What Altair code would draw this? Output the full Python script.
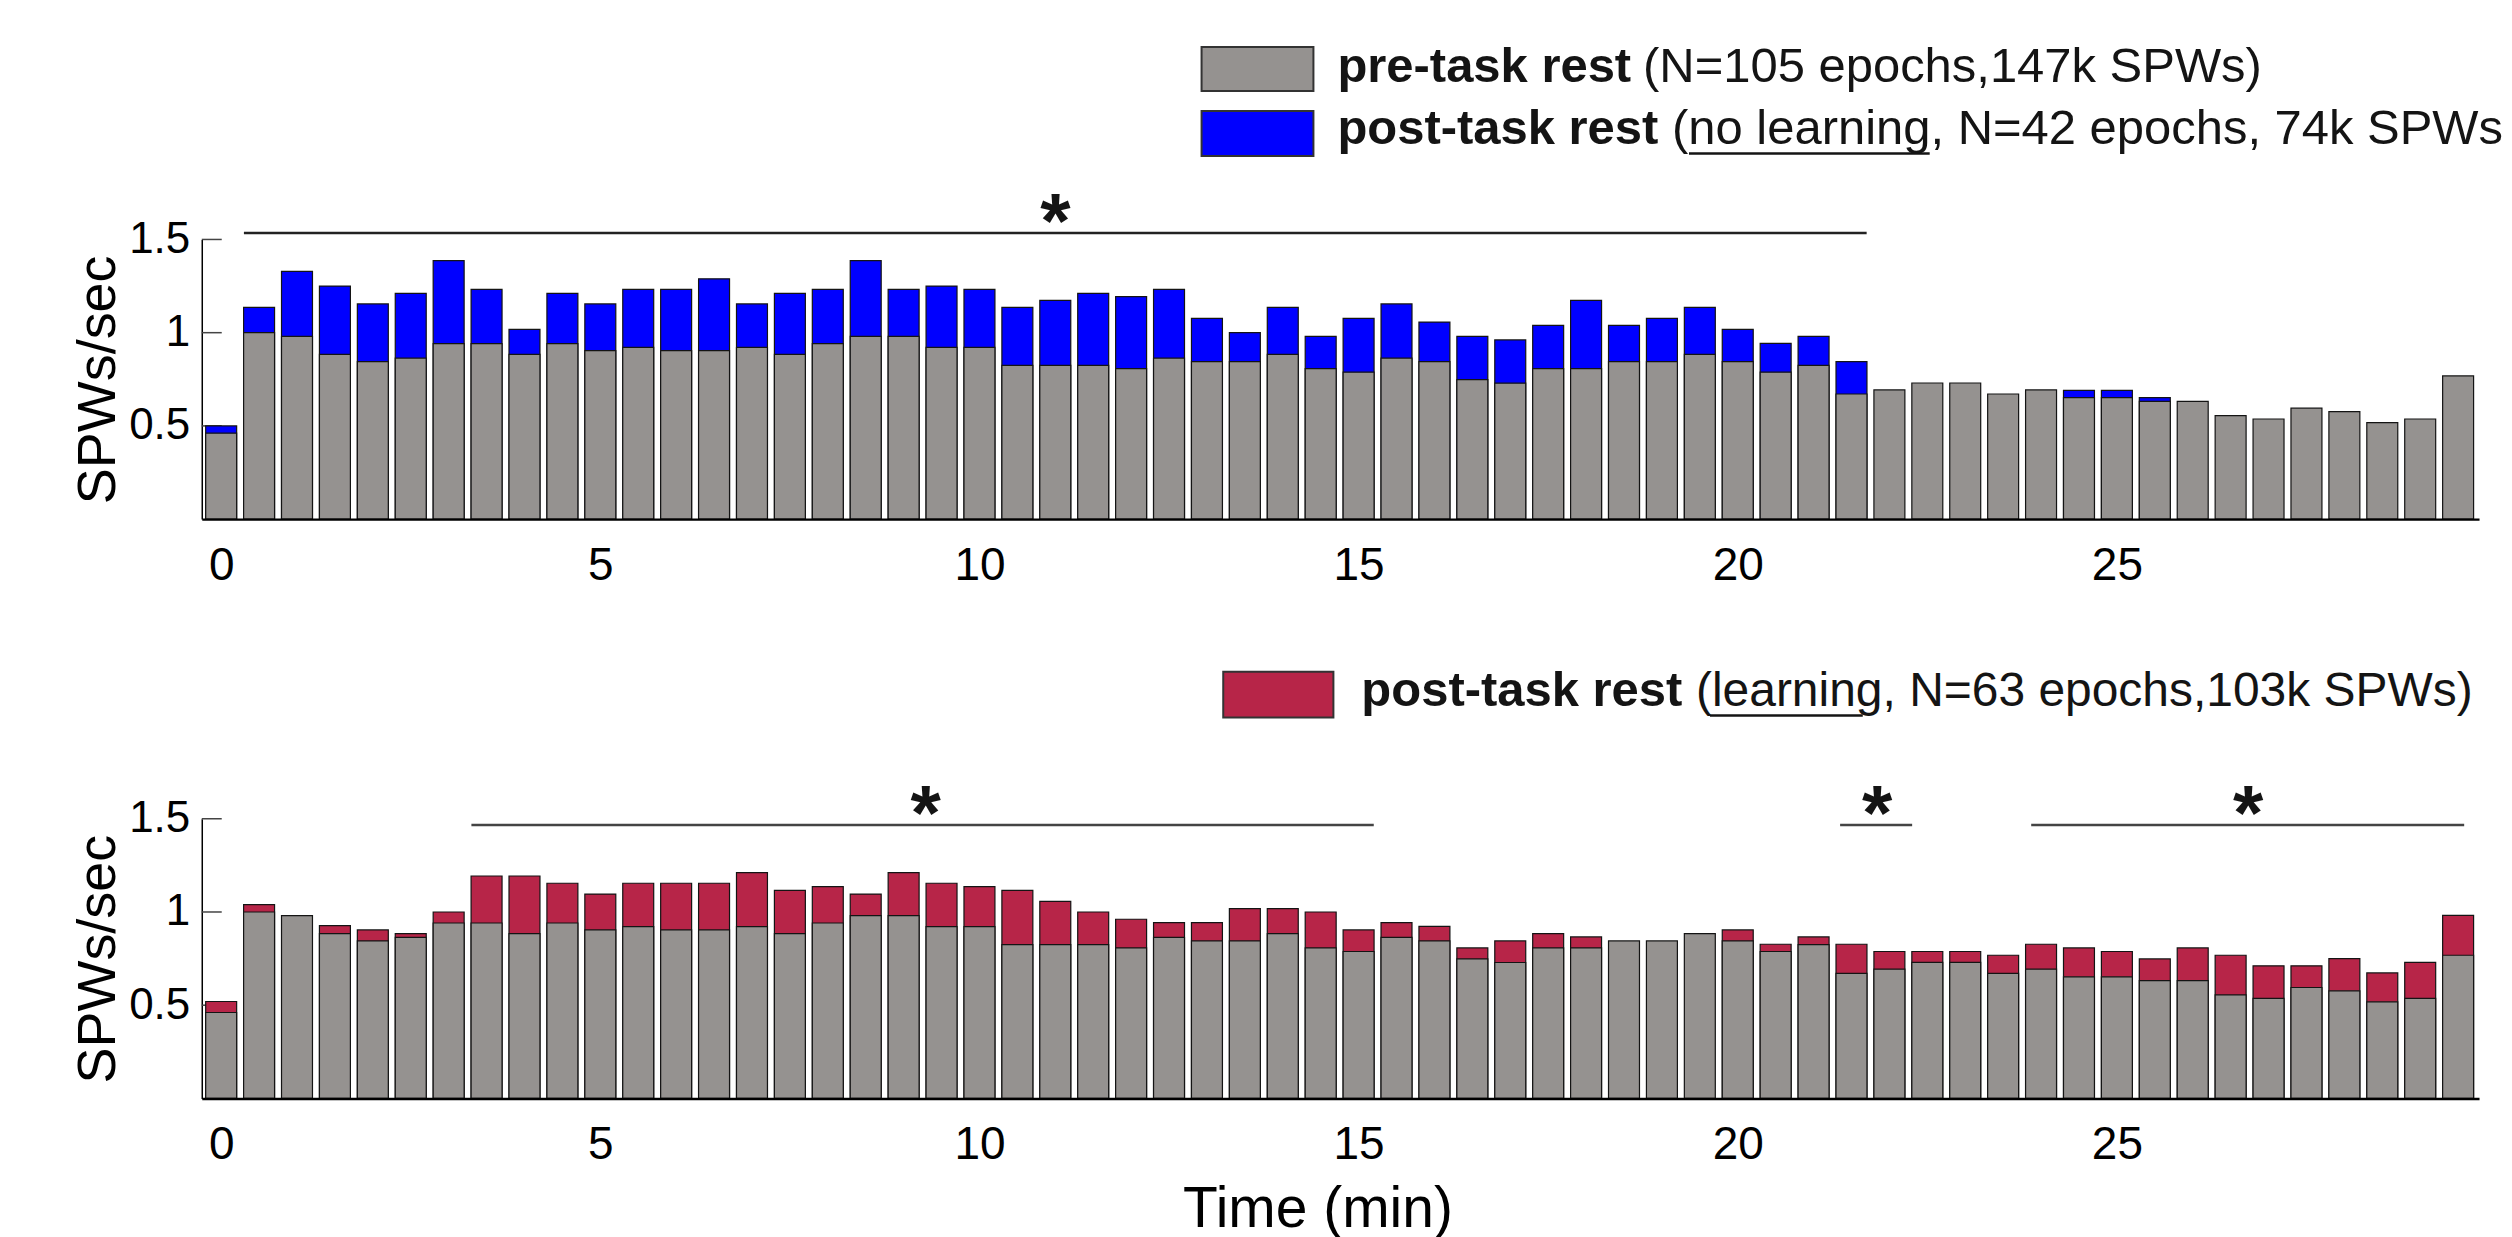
import altair as alt
import pandas as pd

FONT = "Liberation Sans"

# ---- data ----
time_min = [0.0, 0.5, 1.0, 1.5, 2.0, 2.5, 3.0, 3.5, 4.0, 4.5,
            5.0, 5.5, 6.0, 6.5, 7.0, 7.5, 8.0, 8.5, 9.0, 9.5,
            10.0, 10.5, 11.0, 11.5, 12.0, 12.5, 13.0, 13.5, 14.0, 14.5,
            15.0, 15.5, 16.0, 16.5, 17.0, 17.5, 18.0, 18.5, 19.0, 19.5,
            20.0, 20.5, 21.0, 21.5, 22.0, 22.5, 23.0, 23.5, 24.0, 24.5,
            25.0, 25.5, 26.0, 26.5, 27.0, 27.5, 28.0, 28.5, 29.0, 29.5]

pre_task = [0.461, 1.000, 0.980, 0.884, 0.845, 0.864, 0.941, 0.941, 0.884, 0.941,
            0.904, 0.921, 0.904, 0.904, 0.921, 0.884, 0.941, 0.980, 0.980, 0.921,
            0.921, 0.825, 0.825, 0.825, 0.807, 0.864, 0.845, 0.845, 0.884, 0.807,
            0.788, 0.864, 0.845, 0.748, 0.729, 0.807, 0.807, 0.845, 0.845, 0.884,
            0.845, 0.788, 0.825, 0.671, 0.693, 0.730, 0.730, 0.671, 0.693, 0.652,
            0.652, 0.632, 0.632, 0.555, 0.537, 0.595, 0.577, 0.518, 0.537, 0.768]

post_no_learning = [0.500, 1.136, 1.329, 1.250, 1.154, 1.211, 1.386, 1.232, 1.018, 1.211,
                    1.154, 1.232, 1.232, 1.289, 1.154, 1.211, 1.232, 1.386, 1.232, 1.250,
                    1.232, 1.136, 1.173, 1.211, 1.193, 1.232, 1.077, 1.000, 1.136, 0.980,
                    1.077, 1.154, 1.057, 0.980, 0.961, 1.039, 1.173, 1.039, 1.077, 1.136,
                    1.018, 0.943, 0.980, 0.845, None, None, None, None, None, 0.691,
                    0.691, 0.652, None, None, None, None, None, None, None, None]

post_learning = [0.520, 1.039, None, 0.927, 0.904, 0.884, 1.000, 1.193, 1.193, 1.154,
                 1.096, 1.154, 1.154, 1.154, 1.211, 1.116, 1.136, 1.096, 1.211, 1.154,
                 1.136, 1.116, 1.057, 1.000, 0.961, 0.943, 0.943, 1.018, 1.018, 1.000,
                 0.904, 0.943, 0.923, 0.807, 0.845, 0.884, 0.866, None, None, None,
                 0.904, 0.827, 0.866, 0.827, 0.788, 0.788, 0.788, 0.768, 0.827, 0.807,
                 0.788, 0.748, 0.807, 0.768, 0.711, 0.711, 0.750, 0.673, 0.730, 0.982]

y_tick_values = [0.5, 1.0, 1.5]
x_tick_values = [0, 5, 10, 15, 20, 25]

# significance bars (start, end in minutes, height in SPWs/sec, asterisk position)
sig_top_start = [0.3]
sig_top_end = [21.7]
sig_top_level = [1.535]
sig_top_star = [11.0]

sig_bot_start = [3.3, 21.35, 23.87]
sig_bot_end = [15.2, 22.3, 29.58]
sig_bot_level = [1.466, 1.466, 1.466]
sig_bot_star = [9.29, 21.84, 26.73]

GRAY = "#959290"
BLUE = "#0000FF"
RED = "#B72548"

df = pd.DataFrame({"t": time_min, "pre": pre_task,
                   "post_nl": post_no_learning, "post_l": post_learning})
yt_df = pd.DataFrame({"v": y_tick_values})
sig_top = pd.DataFrame({"start": sig_top_start, "end": sig_top_end,
                        "level": sig_top_level, "star": sig_top_star})
sig_bot = pd.DataFrame({"start": sig_bot_start, "end": sig_bot_end,
                        "level": sig_bot_level, "star": sig_bot_star})
one = pd.DataFrame({"a": [0]})

xs = alt.Scale(domain=[-0.19, 29.71], nice=False, zero=False)
ys = alt.Scale(domain=[0, 1.5], nice=False)


def make_xaxis():
    return alt.Axis(values=x_tick_values, format="d", ticks=False, tickSize=0, grid=False,
                    labelFontSize=46, labelPadding=24, labelFlush=False, labelColor="black",
                    domainColor="black", domainWidth=2.5, zindex=1,
                    titleFontSize=57, titleFontWeight="normal", titleColor="black",
                    titlePadding=14, titleX=1117)


def make_yaxis():
    return alt.Axis(values=y_tick_values, format="~g", ticks=False, tickSize=0, grid=False,
                    labelFontSize=44, labelPadding=12, labelColor="black",
                    domainColor="black", domainWidth=1.5,
                    titleFontSize=54, titleFontWeight="normal", titleColor="black",
                    titlePadding=3)


def txt(x, y, s, bold=False, size=49):
    return alt.Chart(one).mark_text(
        text=s, font=FONT, fontSize=size, fontWeight="bold" if bold else "normal",
        align="left", baseline="alphabetic", color="#141414"
    ).encode(x=alt.value(x), y=alt.value(y))


def box(x1, x2, y1, y2, color):
    return alt.Chart(one).mark_rect(color=color, stroke="#333333", strokeWidth=2).encode(
        x=alt.value(x1), x2=alt.value(x2), y=alt.value(y1), y2=alt.value(y2))


def uline(x1, x2, y):
    return alt.Chart(one).mark_rule(color="#141414", strokeWidth=2.5).encode(
        x=alt.value(x1), x2=alt.value(x2), y=alt.value(y))


def panel(post_field, post_color, sig_df, legend, xtitle, sig_color):
    xa = make_xaxis()
    ya = make_yaxis()

    def X(f):
        return alt.X(f + ":Q", scale=xs, axis=xa, title=xtitle)

    def Y(f):
        return alt.Y(f + ":Q", scale=ys, axis=ya, title="SPWs/sec", stack=None)

    tick_rules = alt.Chart(yt_df).mark_rule(color="#444444", strokeWidth=1.5).encode(
        y=Y("v"), x=alt.value(0), x2=alt.value(20))
    post_bars = alt.Chart(df).mark_bar(size=31, orient="vertical", color=post_color,
                                       stroke="#141414", strokeWidth=1.2).encode(
        x=X("t"), y=Y(post_field))
    pre_bars = alt.Chart(df).mark_bar(size=31, orient="vertical", color=GRAY,
                                      stroke="#141414", strokeWidth=1.2).encode(
        x=X("t"), y=Y("pre"))
    rules = alt.Chart(sig_df).mark_rule(color=sig_color, strokeWidth=2.5).encode(
        x=X("start"), x2="end:Q", y=Y("level"))
    stars = alt.Chart(sig_df).mark_text(text="*", font=FONT, fontSize=78, fontWeight="bold",
                                        dy=15, align="center", baseline="alphabetic",
                                        color="#141414").encode(
        x=X("star"), y=Y("level"))
    return alt.layer(tick_rules, post_bars, pre_bars, rules, stars, *legend).properties(
        width=2280, height=280)


legend_top = [
    box(1001, 1113, -192.6, -148.6, GRAY),
    box(1001, 1113, -128.6, -83.6, BLUE),
    txt(1137, -157.6, "pre-task rest", bold=True),
    txt(1443, -157.6, "(N=105 epochs,147k SPWs)"),
    txt(1137, -96.0, "post-task rest", bold=True),
    txt(1472, -96.0, "(no learning, N=42 epochs, 74k SPWs"),
    uline(1489, 1730, -86.0),
]

legend_bot = [
    box(1022.7, 1133, -147.3, -101.3, RED),
    txt(1161, -112.6, "post-task rest", bold=True),
    txt(1496, -112.6, "(learning, N=63 epochs,103k SPWs)", size=48),
    uline(1510, 1663, -103.5),
]

top = panel("post_nl", BLUE, sig_top, legend_top, None, "#222222")
bottom = panel("post_l", RED, sig_bot, legend_bot, "Time (min)", "#444444")

chart = alt.vconcat(top, bottom, spacing=300, bounds="flush").properties(
    padding={"left": 63, "top": 34, "right": 0, "bottom": 0}
).configure_view(stroke=None).configure_axis(labelFont=FONT, titleFont=FONT)

chart.save("out.html", embed_options={"renderer": "svg", "actions": False})
